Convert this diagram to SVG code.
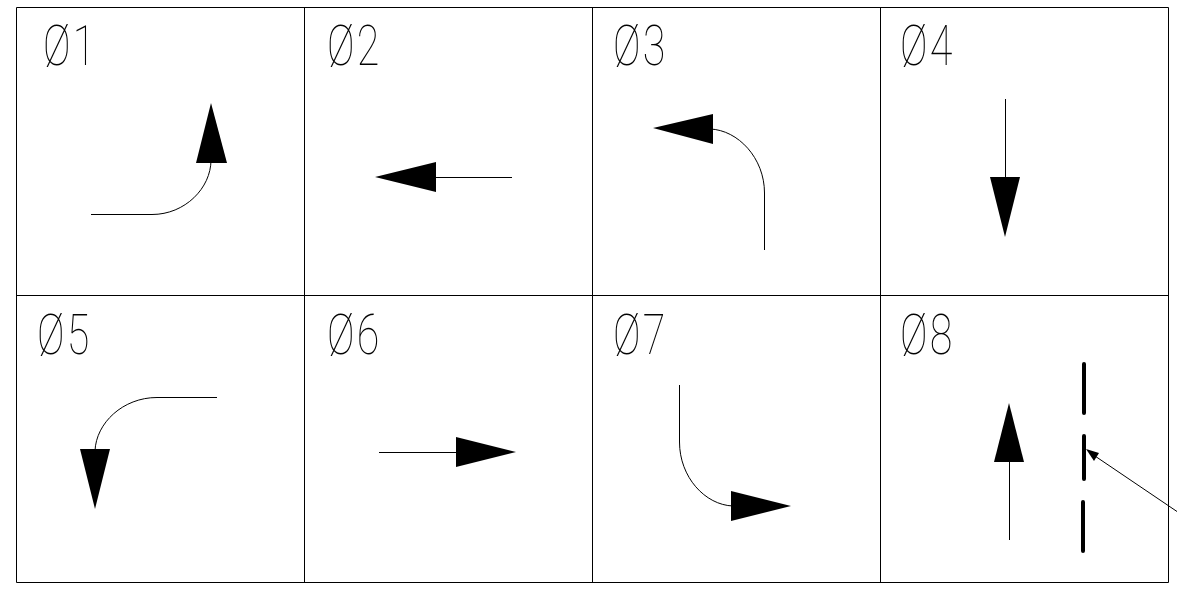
<svg xmlns="http://www.w3.org/2000/svg" width="1177" height="594" viewBox="0 0 1177 594">
<style>
.l{fill:none;stroke:#000;stroke-width:1}
.a{fill:#000;stroke:none}
.t{font-family:"Roboto","Liberation Sans",sans-serif;font-size:55px;font-weight:100;fill:#000;letter-spacing:3px}
</style>
<rect width="1177" height="594" fill="#fff"/>
<g id="grid"><path class="l" d="M16.500 7.500H1168.500V582.500H16.500ZM16.500 295.500H1168.500M304.500 7.500V582.500M592.500 7.500V582.500M880.500 7.500V582.500"/></g>
<g id="connectors">
<path class="l" d="M91 214.500H152C185 214.500 211 188 211 160"/>
<path class="a" d="M211 103L227 163H196Z"/>
<path class="l" d="M512 177.500H434"/>
<path class="a" d="M375 177L436 162V192Z"/>
<path class="l" d="M764.500 250V193C764.500 158 738 130 710 129"/>
<path class="a" d="M653 128L713 114V144Z"/>
<path class="l" d="M1005.500 99V178"/>
<path class="a" d="M1005 237L990 177H1020Z"/>
<path class="l" d="M217 397.500H157C123 397.500 96 423 95 451"/>
<path class="a" d="M95 509L80 449H110Z"/>
<path class="l" d="M379 452.500H457"/>
<path class="a" d="M516 452L456 437V467Z"/>
<path class="l" d="M679.500 385V442C679.500 477 705 505 733 506"/>
<path class="a" d="M791 506L731 491V521Z"/>
<path class="l" d="M1009.500 540V462"/>
<path class="a" d="M1009 403L1024 462H994Z"/>
<path d="M1084 364V413M1084 436V479M1083 502V551" fill="none" stroke="#000" stroke-width="4" stroke-linecap="round"/>
<path class="l" d="M1177 511.500L1092 454"/>
<path class="a" d="M1086 449L1099 453L1094 461Z"/>
</g>
<g id="labels" opacity=".99">
<text class="t" transform="translate(43 65) scale(.75 1)">Ø1</text>
<text class="t" transform="translate(327 65) scale(.75 1)">Ø2</text>
<text class="t" transform="translate(613 65) scale(.75 1)">Ø3</text>
<text class="t" transform="translate(900 65) scale(.75 1)">Ø4</text>
<text class="t" transform="translate(37 354) scale(.75 1)">Ø5</text>
<text class="t" transform="translate(327 354) scale(.75 1)">Ø6</text>
<text class="t" transform="translate(613 354) scale(.75 1)">Ø7</text>
<text class="t" transform="translate(900 354) scale(.75 1)">Ø8</text>
</g>
</svg>
